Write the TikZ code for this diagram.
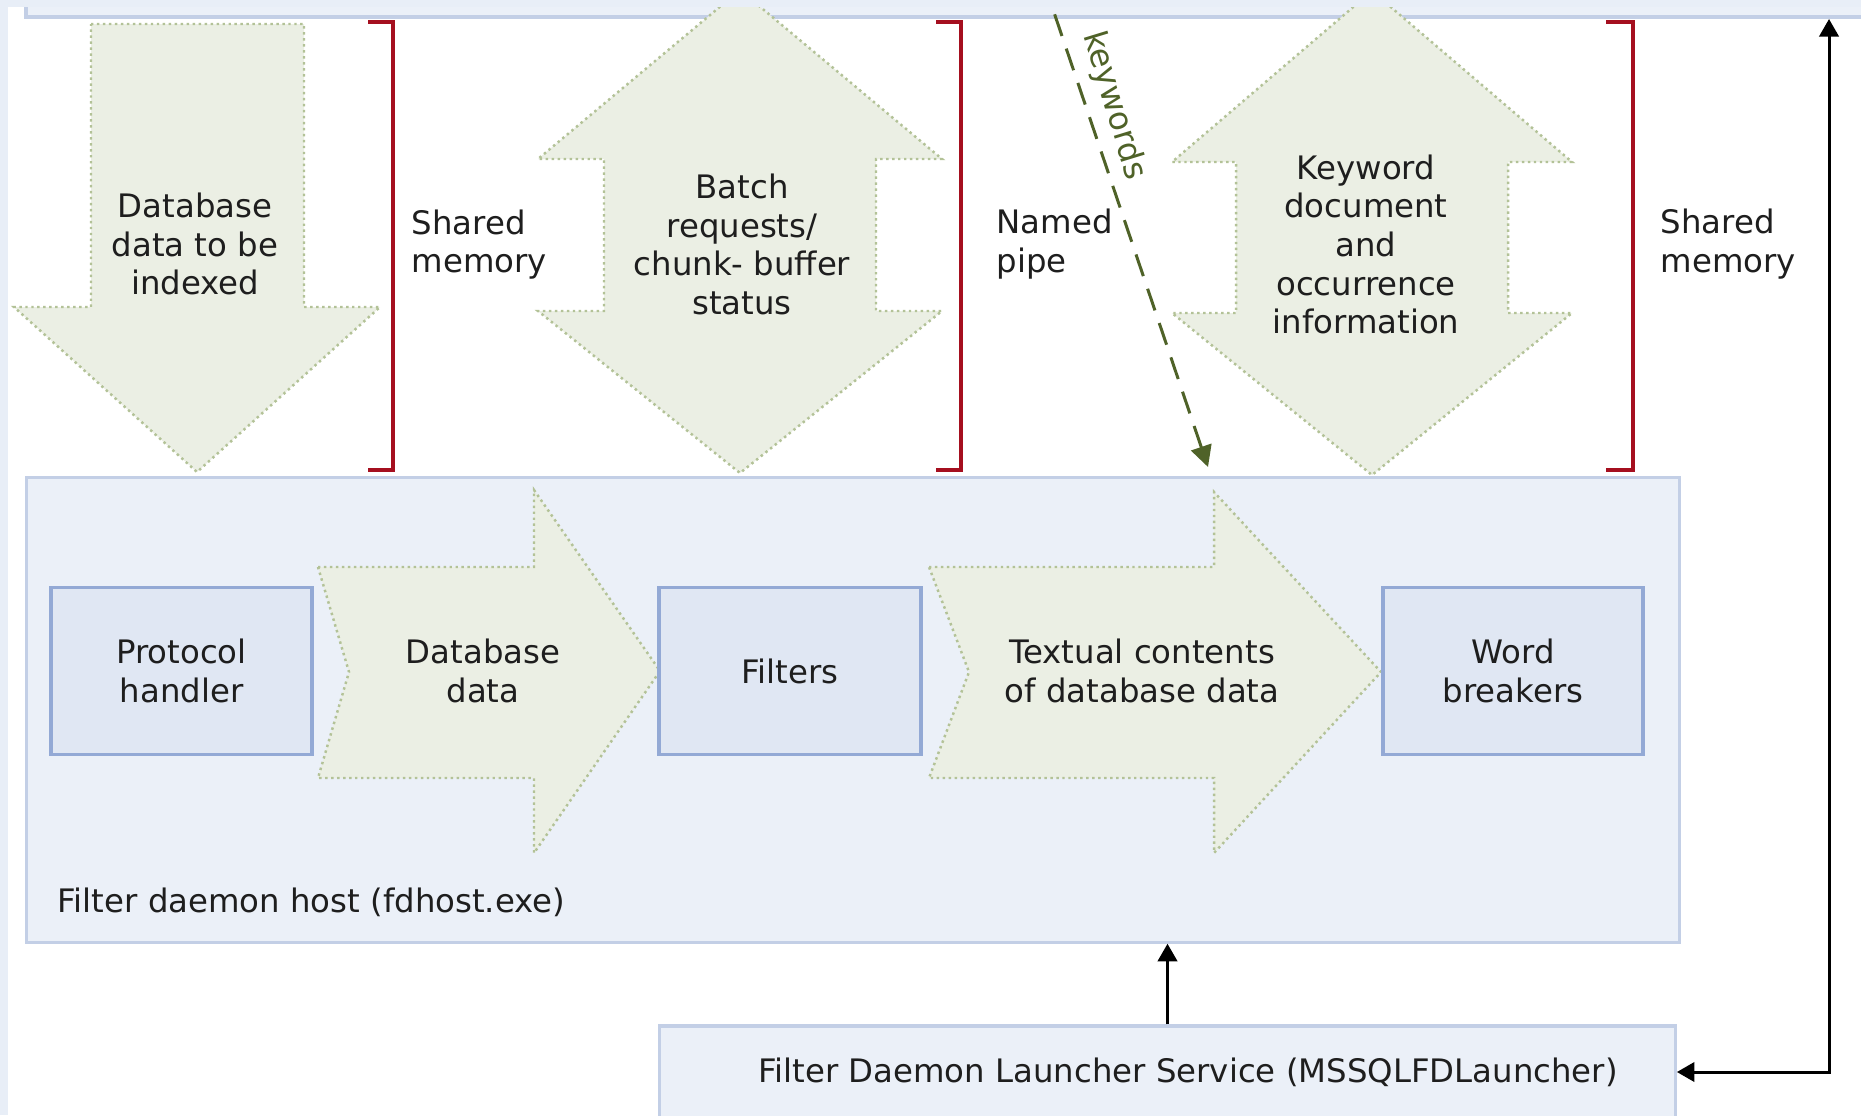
\documentclass[tikz,border=0pt]{standalone}
\usepackage{fontspec}
\setmainfont{DejaVu Sans}
\usepackage{tikz}
\usetikzlibrary{arrows.meta}

\definecolor{pagebg}{HTML}{E8EEF7}
\definecolor{hostfill}{HTML}{EBF0F8}
\definecolor{hostline}{HTML}{C3CFE6}
\definecolor{procfill}{HTML}{E0E7F3}
\definecolor{procline}{HTML}{93A9D5}
\definecolor{flowfill}{HTML}{EBEFE4}
\definecolor{flowline}{HTML}{B3C297}
\definecolor{ipcred}{HTML}{A50F1F}
\definecolor{qgreen}{HTML}{4F6228}
\definecolor{inkgray}{HTML}{1E1E1E}

\begin{document}
\begin{tikzpicture}[x=0.01cm, y=-0.01cm,
    every node/.style={font=\fontsize{9.2}{11}\selectfont, text=inkgray},
    txt/.style={inner sep=0pt, align=center},
    flow/.style={fill=flowfill, draw=flowline, line width=0.7pt, densely dotted},
    hostbox/.style={fill=hostfill, draw=hostline, line width=0.9pt},
    procbox/.style={fill=procfill, draw=procline, line width=1pt, align=center, minimum height=1.67cm},
    ipc/.style={draw=ipcred, line width=1.15pt},
    tip/.style={-{Triangle[length=5pt,width=5.5pt]}},
    tips/.style={{Triangle[length=5pt,width=5.5pt]}-{Triangle[length=5pt,width=5.5pt]}},
    conn/.style={draw=black, line width=0.85pt},
    qline/.style={draw=qgreen, line width=0.85pt, dash pattern=on 6.5pt off 3.8pt, -{Triangle[length=6pt,width=6pt]}}]

  %% Page
  \useasboundingbox (0,0) rectangle (1861,1115);
  \fill[pagebg] (0,0) rectangle (1861,1115);
  \begin{scope}
  \clip (8,7) rectangle (1861,1115);
  \fill[white] (8,7) rectangle (1861,1115);

  %% SQL Server process (cut off at the top)
  \filldraw[hostbox] (26,-40) rectangle (1900,17);

  %% Filter daemon host
  \node[hostbox, minimum width=16.52cm, minimum height=4.64cm] (fdhost) at (853,710) {};
  \node[txt, anchor=west] (fdhostlbl) at (57,902) {Filter daemon host (fdhost.exe)};

  %% Launcher service
  \node[hostbox, minimum width=10.15cm, minimum height=0.92cm] (launcher) at (1167.5,1072) {};
  \node[txt] (launcherlbl) at (1188,1072) {Filter Daemon Launcher Service (MSSQLFDLauncher)};

  %% Data flow inside fdhost
  \draw[flow] (318,567) -- (534,567) -- (534,490) -- (660,671) -- (534,853)
    -- (534,778) -- (318,778) -- (349,672) -- cycle;
  \draw[flow] (929,567) -- (1214,567) -- (1214,492) -- (1381,672) -- (1214,853)
    -- (1214,778) -- (929,778) -- (969,672) -- cycle;
  \node[txt] (dbdata) at (483,671) {Database\\data};
  \node[txt] (textual) at (1142,671) {Textual contents\\of database data};

  \node[procbox, minimum width=2.61cm] (proto) at (181.5,671) {Protocol\\handler};
  \node[procbox, minimum width=2.62cm] (filters) at (790,671) {Filters};
  \node[procbox, minimum width=2.60cm] (wb) at (1513,671) {Word\\breakers};

  %% Traffic between the two processes
  \draw[flow] (91,24) -- (304,24) -- (304,307) -- (380,307) -- (197,472)
    -- (14,307) -- (91,307) -- cycle;
  \node[txt] (toindex) at (195,244) {Database\\data to be\\indexed};

  \draw[flow] (740,-10) -- (942,159) -- (876,159) -- (876,311) -- (942,311)
    -- (740,473) -- (538,311) -- (604,311) -- (604,159) -- (538,159) -- cycle;
  \node[txt] (batch) at (742,244.5) {Batch\\requests/\\chunk- buffer\\status};

  \draw[flow] (1372,-9) -- (1572,162) -- (1508,162) -- (1508,313) -- (1572,313)
    -- (1372,475) -- (1172,313) -- (1236,313) -- (1236,162) -- (1172,162) -- cycle;
  \node[txt] (kwinfo) at (1366,244.5) {Keyword\\document\\and\\occurrence\\information};

  %% Channel brackets
  \draw[ipc] (368,22) -- (393,22) -- (393,470) -- (368,470);
  \draw[ipc] (936,22) -- (961,22) -- (961,470) -- (936,470);
  \draw[ipc] (1606,22) -- (1633,22) -- (1633,470) -- (1606,470);
  \node[txt, align=left, anchor=west] (shm1) at (411,244.5) {Shared\\memory};
  \node[txt, align=left, anchor=west] (pipe) at (996,244) {Named\\pipe};
  \node[txt, align=left, anchor=west] (shm2) at (1660,244) {Shared\\memory};

  %% Query keywords
  \coordinate (qfrom) at (1043,-20);
  \coordinate (qto) at (1208,467);
  \draw[qline] (qfrom) -- (qto);
  \node[inner sep=0pt, anchor=base east, rotate=-73, text=qgreen] (qlbl) at (1128,182) {keywords};

  %% Launcher connections
  \coordinate (sqltop) at (1829,19);
  \draw[conn, tip] (launcher.north) -- (launcher.north |- fdhost.south);
  \draw[conn, tips] (launcher.east) -| (sqltop);
  \end{scope}
\end{tikzpicture}
\end{document}
